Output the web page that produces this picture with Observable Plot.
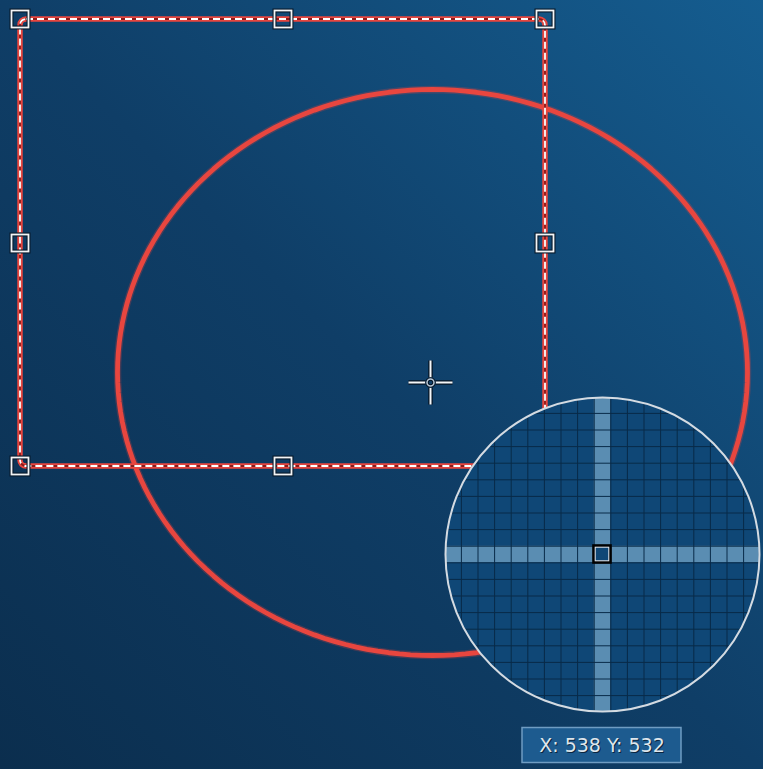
<!DOCTYPE html>
<html>
<head>
<meta charset="utf-8">
<script src="https://cdn.jsdelivr.net/npm/d3@7"></script>
<script src="https://cdn.jsdelivr.net/npm/@observablehq/plot@0.6"></script>
<style>
  html, body { margin: 0; padding: 0; overflow: hidden; background: #0d3a62; }
  #chart svg { display: block; }
</style>
</head>
<body>
<div id="chart"></div>
<script>
// ---- data (pixel-space scene values) ----
const boxX = [20, 545];              // selection rectangle left/right
const boxY = [19, 466];              // selection rectangle top/bottom
const handleX = [20, 283, 545, 20, 545, 20, 283, 545];
const handleY = [19, 19, 19, 243, 243, 466, 466, 466];
const handleSize = 17;
const ellipseCenter = [432, 372];
const ellipseRadii = [315, 283];
const crossCenter = [430, 382];
const crossArm = [5, 22];            // gap, arm length
const loupeCenter = [602, 554];
const loupeRadius = 157;
const loupeCell = 16.6;
const labelText = ["X: 538 Y: 532"];
const labelBox = [601.5, 745, 159, 35]; // cx, cy, w, h

// ---- derived geometry ----
const ellipsePts = d3.range(0, 361, 2).map(a => {
  const t = a * Math.PI / 180;
  return {x: ellipseCenter[0] + ellipseRadii[0] * Math.cos(t), y: ellipseCenter[1] + ellipseRadii[1] * Math.sin(t)};
});
const handles = handleX.map((x, i) => ({x, y: handleY[i]}));
const box = [{x1: boxX[0], x2: boxX[1], y1: boxY[0], y2: boxY[1]}];

const [lcx, lcy] = loupeCenter, R = loupeRadius, cs = loupeCell;
const vLines = [], hLines = [];
for (let k = -12; k <= 12; k++) {
  const off = -cs / 2 + k * cs;
  if (Math.abs(off) < R - 0.5) {
    const h = Math.sqrt(R * R - off * off);
    vLines.push({x: lcx + off, y1: lcy - h, y2: lcy + h});
    hLines.push({y: lcy + off, x1: lcx - h, x2: lcx + h});
  }
}
const hh = Math.sqrt(R * R - (cs / 2) * (cs / 2));
const highlight = [
  {x1: lcx - cs / 2, x2: lcx + cs / 2, y1: lcy - hh, y2: lcy + hh},
  {x1: lcx - hh, x2: lcx + hh, y1: lcy - cs / 2, y2: lcy + cs / 2}
];
const centerCell = [{x1: lcx - cs / 2, x2: lcx + cs / 2, y1: lcy - cs / 2, y2: lcy + cs / 2}];

const [ccx, ccy] = crossCenter, [g, L] = crossArm;
const crossSegs = [
  {x1: ccx - L, y1: ccy, x2: ccx - g, y2: ccy},
  {x1: ccx + g, y1: ccy, x2: ccx + L, y2: ccy},
  {x1: ccx, y1: ccy - L, x2: ccx, y2: ccy - g},
  {x1: ccx, y1: ccy + g, x2: ccx, y2: ccy + L}
];
const lbl = [{x1: labelBox[0] - labelBox[2] / 2, x2: labelBox[0] + labelBox[2] / 2,
              y1: labelBox[1] - labelBox[3] / 2, y2: labelBox[1] + labelBox[3] / 2,
              cx: labelBox[0], cy: labelBox[1], text: labelText[0]}];

const hs = handleSize / 2;

const chart = Plot.plot({
  width: 763,
  height: 769,
  margin: 0,
  x: {type: "identity", axis: null},
  y: {type: "identity", axis: null},
  style: {background: "linear-gradient(to top right, #0b2e4e 0%, #0f3e67 50%, #155d90 100%)", overflow: "hidden"},
  marks: [
    // ellipse
    Plot.line(ellipsePts, {x: "x", y: "y", curve: "linear-closed", stroke: "#e8453f", strokeWidth: 7.5, strokeOpacity: 0.25}),
    Plot.line(ellipsePts, {x: "x", y: "y", curve: "linear-closed", stroke: "#e8463f", strokeWidth: 4.8}),
    // selection rectangle
    Plot.rect(box, {x1: "x1", x2: "x2", y1: "y1", y2: "y2", fill: "none", stroke: "#e8463f", strokeWidth: 5.5, rx: 6}),
    Plot.rect(box, {x1: "x1", x2: "x2", y1: "y1", y2: "y2", fill: "none", stroke: "#8a1c1c", strokeWidth: 1.8, rx: 6}),
    Plot.rect(box, {x1: "x1", x2: "x2", y1: "y1", y2: "y2", fill: "none", stroke: "#ffffff", strokeWidth: 1.8, rx: 6, strokeDasharray: "7,4"}),
    // handles
    Plot.rect(handles, {x1: d => d.x - hs, x2: d => d.x + hs, y1: d => d.y - hs, y2: d => d.y + hs, fill: "none", stroke: "#07182a", strokeWidth: 4}),
    Plot.rect(handles, {x1: d => d.x - hs, x2: d => d.x + hs, y1: d => d.y - hs, y2: d => d.y + hs, fill: "none", stroke: "#f2f4f6", strokeWidth: 1.8}),
    // crosshair
    Plot.link(crossSegs, {x1: "x1", y1: "y1", x2: "x2", y2: "y2", stroke: "#061626", strokeWidth: 4.5}),
    Plot.link(crossSegs, {x1: "x1", y1: "y1", x2: "x2", y2: "y2", stroke: "#f4f6f8", strokeWidth: 2}),
    Plot.dot([crossCenter], {x: d => d[0], y: d => d[1], r: 3.5, fill: "none", stroke: "#061626", strokeWidth: 3.5}),
    Plot.dot([crossCenter], {x: d => d[0], y: d => d[1], r: 3.5, fill: "none", stroke: "#b8c8d8", strokeWidth: 1.5}),
    // loupe
    Plot.dot([loupeCenter], {x: d => d[0], y: d => d[1], r: R, fill: "#0f4776", stroke: "none"}),
    Plot.rect(highlight, {x1: "x1", x2: "x2", y1: "y1", y2: "y2", fill: "#5a8db2"}),
    Plot.ruleX(vLines, {x: "x", y1: "y1", y2: "y2", stroke: "#082a48", strokeWidth: 1}),
    Plot.ruleY(hLines, {y: "y", x1: "x1", x2: "x2", stroke: "#082a48", strokeWidth: 1}),
    Plot.rect(centerCell, {x1: "x1", x2: "x2", y1: "y1", y2: "y2", fill: "#0f4776", stroke: "#000000", strokeWidth: 3}),
    Plot.rect(centerCell, {x1: d => d.x1 + 1.5, x2: d => d.x2 - 1.5, y1: d => d.y1 + 1.5, y2: d => d.y2 - 1.5, fill: "none", stroke: "#e8eef4", strokeWidth: 1}),
    Plot.dot([loupeCenter], {x: d => d[0], y: d => d[1], r: R, fill: "none", stroke: "#d4dbe2", strokeWidth: 2}),
    // coordinate label
    Plot.rect(lbl, {x1: "x1", x2: "x2", y1: "y1", y2: "y2", fill: "#1d5b8f", stroke: "#6f9cc2", strokeWidth: 1.5}),
    Plot.text(lbl, {x: "cx", y: "cy", text: "text", dx: 1, dy: 1, fill: "#0a2540", fontSize: 19, fontFamily: "DejaVu Sans", textAnchor: "middle"}),
    Plot.text(lbl, {x: "cx", y: "cy", text: "text", fill: "#dfe6ec", fontSize: 19, fontFamily: "DejaVu Sans", textAnchor: "middle"})
  ]
});
document.getElementById("chart").appendChild(chart);
</script>
</body>
</html>
